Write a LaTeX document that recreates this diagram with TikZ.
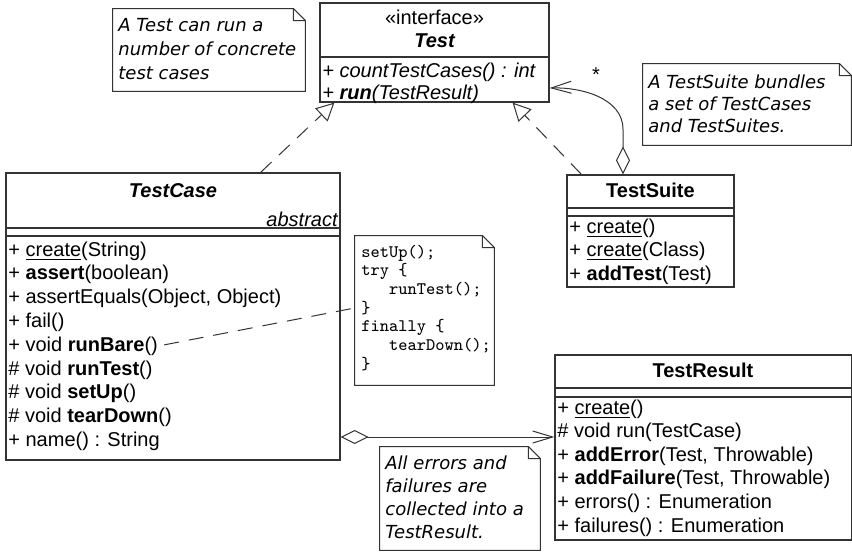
\documentclass[tikz,border=0pt]{standalone}
\usepackage{fontspec}
\setmainfont{Liberation Sans}
\newfontfamily\notefont{DejaVu Sans}
\usetikzlibrary{arrows.meta,fit,positioning}

\tikzset{
  umlbox/.style={draw=black!80, line width=0.6pt, inner sep=0pt},
  notebox/.style={inner sep=0pt},
  optext/.style={anchor=base west, inner sep=0pt, font=\fontsize{10}{12}\selectfont},
  nametext/.style={anchor=base, inner sep=0pt, font=\fontsize{10}{12}\selectfont\bfseries},
  codetext/.style={anchor=base west, inner sep=0pt, font=\ttfamily\fontsize{8.8}{10}\selectfont},
  notetext/.style={anchor=base west, inner sep=0pt, font=\notefont\itshape\fontsize{9}{11}\selectfont},
  realizes/.style={draw=black!80, line width=0.5pt, dash pattern=on 7.5pt off 5pt,
    -{Triangle[open, length=9pt, width=9pt]}},
  aggregates/.style={draw=black!80, line width=0.5pt,
    {Diamond[open, length=14pt, width=7pt]}-{Straight Barb[length=10pt, width=6pt]}},
  notelink/.style={draw=black!80, line width=0.5pt, dash pattern=on 7.5pt off 5pt},
}

\begin{document}
\begin{tikzpicture}[x=0.5pt, y=-0.5pt]
  \useasboundingbox (0,0) rectangle (852,552);

  % notes
  \node[notebox, fit={(113,9) (305,91)}] (note-test) {};
  \node[notebox, fit={(643,64) (851,145)}] (note-suite) {};
  \node[notebox, fit={(355,236) (494,385)}] (note-code) {};
  \node[notebox, fit={(380,447) (540,550)}] (note-result) {};
  \foreach \n in {note-test,note-suite,note-code,note-result}
    \draw[draw=black!80, line width=0.5pt] (\n.north west) -- ([xshift=-6pt]\n.north east)
      -- ([yshift=-6pt]\n.north east) -- (\n.south east) -- (\n.south west) -- cycle
      ([xshift=-6pt]\n.north east) -- ([xshift=-6pt,yshift=-6pt]\n.north east) -- ([yshift=-6pt]\n.north east);

  \foreach \t [count=\i] in {A Test can run a, number of concrete, test cases}
    \node[notetext] (note-test-\i) at (118,7+24*\i) {\t};
  \foreach \t [count=\i] in {A TestSuite bundles, a set of TestCases, and TestSuites.}
    \node[notetext] (note-suite-\i) at (648,66+22*\i) {\t};
  \foreach \t [count=\i] in {All errors and, failures are, collected into a, TestResult.}
    \node[notetext] (note-result-\i) at (385,445.7+23.3*\i) {\t};
  \foreach \t [count=\i] in {setUp();, try \{, \hphantom{xxx}runTest();, \}, finally \{,
      \hphantom{xxx}tearDown();, \}}
    \node[codetext] (note-code-\i) at (361,238.3+18.7*\i) {\t};

  % Test
  \node[umlbox, fit={(320,3) (549,102)}] (test) {};
  \draw[draw=black!80, line width=0.6pt] (test.west |- 0,57) -- (test.east |- 0,57);
  \node[nametext, font=\fontsize{10}{12}\selectfont] (test-stereo) at (434.5,24) {«interface»};
  \node[nametext, font=\fontsize{10}{12}\selectfont\bfseries\itshape] (test-name) at (434.5,47) {Test};
  \node[optext, font=\fontsize{10}{12}\selectfont\itshape] (test-op1) at (322,77) {+ countTestCases() : int};
  \node[optext, font=\fontsize{10}{12}\selectfont\itshape] (test-op2) at (322,99) {+ \textbf{run}(TestResult)};

  % TestCase
  \node[umlbox, fit={(6,173) (340,460)}] (testcase) {};
  \draw[draw=black!80, line width=0.6pt] (testcase.west |- 0,228) -- (testcase.east |- 0,228)
    (testcase.west |- 0,236) -- (testcase.east |- 0,236);
  \node[nametext, font=\fontsize{10}{12}\selectfont\bfseries\itshape] (testcase-name) at (173,197) {TestCase};
  \node[optext, anchor=base east, font=\fontsize{10}{12}\selectfont\itshape] (testcase-abstract) at (338,226) {abstract};
  \foreach \t [count=\i] in {+ \underline{create}(String), + \textbf{assert}(boolean),
      {+ assertEquals(Object, Object)}, + fail(), + void \textbf{runBare}(), \# void \textbf{runTest}(),
      \# void \textbf{setUp}(), \# void \textbf{tearDown}(), + name() : String}
    \node[optext] (testcase-op\i) at (8,232.2+23.8*\i) {\t};

  % TestSuite
  \node[umlbox, fit={(567,175) (734,287)}] (testsuite) {};
  \draw[draw=black!80, line width=0.6pt] (testsuite.west |- 0,208) -- (testsuite.east |- 0,208)
    (testsuite.west |- 0,216) -- (testsuite.east |- 0,216);
  \node[nametext] (testsuite-name) at (650.5,197) {TestSuite};
  \foreach \t [count=\i] in {+ \underline{create}(), + \underline{create}(Class), + \textbf{addTest}(Test)}
    \node[optext] (testsuite-op\i) at (569,209.5+23.5*\i) {\t};

  % TestResult
  \node[umlbox, fit={(555,355) (851.5,540)}] (testresult) {};
  \draw[draw=black!80, line width=0.6pt] (testresult.west |- 0,388) -- (testresult.east |- 0,388)
    (testresult.west |- 0,397) -- (testresult.east |- 0,397);
  \node[nametext] (testresult-name) at (703,377) {TestResult};
  \foreach \t [count=\i] in {+ \underline{create}(), \# void run(TestCase), {+ \textbf{addError}(Test, Throwable)},
      {+ \textbf{addFailure}(Test, Throwable)}, + errors() : Enumeration, + failures() : Enumeration}
    \node[optext] (testresult-op\i) at (557,390.4+23.6*\i) {\t};

  % connectors
  \draw[realizes] ([xshift=-40pt]testcase.north east) -- ([xshift=7.5pt]test.south west);
  \draw[realizes] ([xshift=7.5pt]testsuite.north west) -- ([xshift=-18.5pt]test.south east);
  \draw[aggregates] ([xshift=-13.75pt]testsuite.north) -- ++(0,-45)
    .. controls +(0,-32) and +(30,-1) .. ([yshift=-17.75pt]test.east);
  \node[inner sep=0pt, font=\fontsize{10}{12}\selectfont] (mult) at (596,75) {*};
  \draw[aggregates] ([yshift=-60.25pt]testcase.east) -- ([yshift=-60.25pt]testcase.east -| testresult.west);
  \draw[notelink, shorten <=3pt] (testcase-op5.east) -- ([yshift=1.25pt]note-code.west);
\end{tikzpicture}
\end{document}
